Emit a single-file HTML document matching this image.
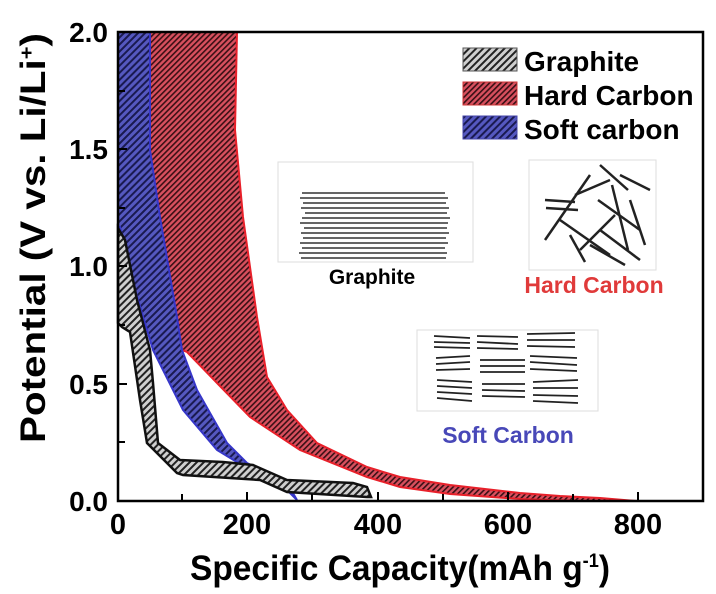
<!DOCTYPE html>
<html><head><meta charset="utf-8"><style>
html,body{margin:0;padding:0;background:#fff;}
svg{display:block;font-family:"Liberation Sans",Arial,sans-serif;}
</style></head><body>
<svg width="716" height="594" viewBox="0 0 716 594" xmlns="http://www.w3.org/2000/svg">
<defs>
<pattern id="hg" width="5" height="5" patternUnits="userSpaceOnUse" patternTransform="rotate(45)">
<rect width="5" height="5" fill="#cfcfcf"/><rect width="2" height="5" fill="#222"/></pattern>
<pattern id="hr" width="4" height="4" patternUnits="userSpaceOnUse" patternTransform="rotate(45)">
<rect width="4" height="4" fill="#d8505e"/><rect width="1.6" height="4" fill="#3a1015"/></pattern>
<pattern id="hb" width="5" height="5" patternUnits="userSpaceOnUse" patternTransform="rotate(45)">
<rect width="5" height="5" fill="#5558c0"/><rect width="2" height="5" fill="#1a1a50"/></pattern>
</defs>
<rect width="716" height="594" fill="#fff"/>

<!-- hard carbon -->
<path d="M150,32 L150,150 L160,230 L172,300 L182,350 L187,352 L217,383 L250,417 L300,450 L367,477 L400,487 L450,494 L520,499 L580,501 L636,501 L600,498 L560,496 L520,493 L450,485 L400,477 L367,467 L317,443 L287,410 L267,377 L257,317 L243,217 L235,130 L237,32 Z" fill="url(#hr)" stroke="#e8202a" stroke-width="2"/>
<!-- soft carbon -->
<path d="M118,32 L118,227 L120,227 L133,283 L153,350 L183,410 L217,450 L250,470 L280,483 L297,500 L287,483 L247,463 L227,443 L197,390 L182,350 L177,317 L160,217 L150,150 L150,32 Z" fill="url(#hb)" stroke="#3636c8" stroke-width="2"/>
<!-- graphite -->
<path d="M118,228 L125,240 L137,300 L150,350 L153,383 L158,443 L180,460 L223,462 L253,465 L287,480 L353,483 L367,487 L371,497 L367,497 L287,492 L260,480 L183,475 L177,473 L147,443 L140,400 L130,332 L122,327 L118,323 Z" fill="url(#hg)" stroke="#111" stroke-width="2.5"/>

<!-- axes -->
<rect x="118" y="32" width="585" height="469" fill="none" stroke="#000" stroke-width="2.5"/>
<g stroke="#000" stroke-width="2">
<line x1="182" y1="501" x2="182" y2="494"/><line x1="247" y1="501" x2="247" y2="492"/>
<line x1="312" y1="501" x2="312" y2="494"/><line x1="378" y1="501" x2="378" y2="492"/>
<line x1="443" y1="501" x2="443" y2="494"/><line x1="508" y1="501" x2="508" y2="492"/>
<line x1="573" y1="501" x2="573" y2="494"/><line x1="638" y1="501" x2="638" y2="492"/>
<line x1="118" y1="442" x2="125" y2="442"/><line x1="118" y1="384" x2="127" y2="384"/>
<line x1="118" y1="325" x2="125" y2="325"/><line x1="118" y1="266" x2="127" y2="266"/>
<line x1="118" y1="208" x2="125" y2="208"/><line x1="118" y1="149" x2="127" y2="149"/>
<line x1="118" y1="91" x2="125" y2="91"/>
</g>
<g font-size="29" font-weight="bold" text-anchor="middle">
<text x="118" y="534">0</text><text x="247" y="534">200</text><text x="378" y="534">400</text>
<text x="508" y="534">600</text><text x="638" y="534">800</text>
</g>
<g font-size="28" font-weight="bold" text-anchor="end">
<text x="108" y="511">0.0</text><text x="108" y="394">0.5</text><text x="108" y="276">1.0</text>
<text x="108" y="159">1.5</text><text x="108" y="42">2.0</text>
</g>
<text x="190" y="580" font-size="35" font-weight="bold" textLength="420" lengthAdjust="spacingAndGlyphs">Specific Capacity(mAh g<tspan dy="-13" font-size="19">-1</tspan><tspan dy="13">)</tspan></text>
<text transform="translate(45,443) rotate(-90)" font-size="35" font-weight="bold" textLength="410" lengthAdjust="spacingAndGlyphs">Potential (V vs. Li/Li<tspan dy="-12" font-size="19">+</tspan><tspan dy="12">)</tspan></text>

<!-- legend -->
<rect x="463" y="48" width="54" height="23" fill="url(#hg)" stroke="#555"/>
<rect x="463" y="82" width="54" height="23" fill="url(#hr)" stroke="#c33"/>
<rect x="463" y="116" width="54" height="23" fill="url(#hb)" stroke="#44a"/>
<g font-size="28" font-weight="bold">
<text x="524" y="71">Graphite</text><text x="524" y="105">Hard Carbon</text><text x="524" y="139">Soft carbon</text>
</g>

<!-- insets -->
<rect x="278" y="162" width="195" height="100" fill="#fff" stroke="#ddd"/>
<g stroke="#333" stroke-width="1.6">
<line x1="302" y1="193" x2="445" y2="193"/><line x1="300" y1="198" x2="448" y2="198"/>
<line x1="303" y1="203" x2="446" y2="203"/><line x1="301" y1="208" x2="449" y2="208"/>
<line x1="305" y1="213" x2="447" y2="213"/><line x1="302" y1="218" x2="450" y2="218"/>
<line x1="300" y1="223" x2="448" y2="223"/><line x1="304" y1="228" x2="447" y2="228"/>
<line x1="301" y1="233" x2="449" y2="233"/><line x1="303" y1="238" x2="446" y2="238"/>
<line x1="300" y1="243" x2="448" y2="243"/><line x1="302" y1="248" x2="445" y2="248"/>
<line x1="299" y1="253" x2="447" y2="253"/><line x1="301" y1="258" x2="446" y2="258"/>
</g>
<text x="372" y="284" font-size="21" font-weight="bold" text-anchor="middle">Graphite</text>

<rect x="529" y="160" width="127" height="110" fill="#fff" stroke="#ddd"/>
<g stroke="#222" stroke-width="2.5">
<line x1="545" y1="240" x2="590" y2="175"/><line x1="600" y1="165" x2="628" y2="190"/>
<line x1="545" y1="200" x2="575" y2="202"/><line x1="546" y1="208" x2="578" y2="210"/>
<line x1="560" y1="220" x2="610" y2="255"/><line x1="570" y1="235" x2="585" y2="262"/>
<line x1="598" y1="200" x2="640" y2="230"/><line x1="612" y1="185" x2="628" y2="250"/>
<line x1="580" y1="250" x2="615" y2="215"/><line x1="630" y1="200" x2="645" y2="245"/>
<line x1="575" y1="195" x2="610" y2="180"/><line x1="600" y1="230" x2="640" y2="260"/>
<line x1="590" y1="245" x2="625" y2="265"/><line x1="620" y1="175" x2="650" y2="190"/>
</g>
<text x="594" y="293" font-size="23" font-weight="bold" fill="#e03a3a" text-anchor="middle">Hard Carbon</text>

<rect x="417" y="330" width="181" height="81" fill="#fff" stroke="#ddd"/>
<g stroke="#222" stroke-width="1.8">
<line x1="434" y1="336" x2="470" y2="338"/><line x1="434" y1="342" x2="470" y2="343"/><line x1="434" y1="347" x2="470" y2="348"/>
<line x1="477" y1="336" x2="518" y2="337"/><line x1="477" y1="342" x2="518" y2="344"/><line x1="477" y1="348" x2="518" y2="349"/>
<line x1="527" y1="334" x2="575" y2="333"/><line x1="527" y1="340" x2="575" y2="340"/><line x1="527" y1="346" x2="575" y2="347"/>
<line x1="436" y1="358" x2="470" y2="356"/><line x1="436" y1="364" x2="470" y2="362"/><line x1="436" y1="370" x2="470" y2="369"/>
<line x1="480" y1="360" x2="525" y2="360"/><line x1="480" y1="366" x2="525" y2="366"/><line x1="480" y1="372" x2="525" y2="372"/>
<line x1="530" y1="356" x2="577" y2="358"/><line x1="530" y1="362" x2="577" y2="365"/><line x1="530" y1="369" x2="577" y2="371"/>
<line x1="437" y1="380" x2="472" y2="382"/><line x1="437" y1="386" x2="472" y2="388"/><line x1="437" y1="392" x2="472" y2="394"/><line x1="437" y1="398" x2="472" y2="401"/>
<line x1="482" y1="384" x2="525" y2="384"/><line x1="482" y1="390" x2="525" y2="391"/><line x1="482" y1="396" x2="525" y2="397"/>
<line x1="533" y1="382" x2="578" y2="380"/><line x1="533" y1="388" x2="578" y2="388"/><line x1="533" y1="395" x2="578" y2="396"/><line x1="533" y1="401" x2="578" y2="403"/>
</g>
<text x="508" y="443" font-size="23" font-weight="bold" fill="#4848b8" text-anchor="middle">Soft Carbon</text>
</svg>
</body></html>
